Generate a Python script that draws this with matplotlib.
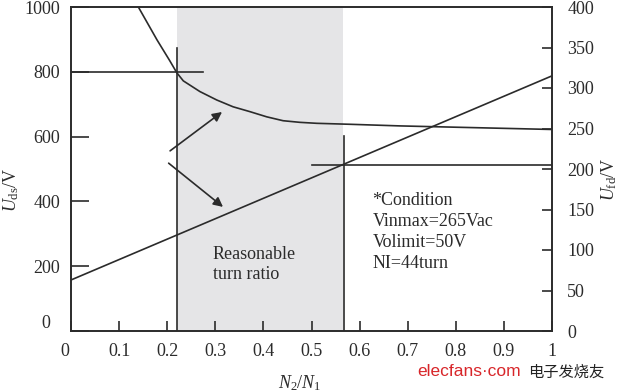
import matplotlib
matplotlib.use("Agg")
import matplotlib.pyplot as plt
import matplotlib.transforms as mtransforms

plt.rcParams['font.family'] = ['Liberation Serif', 'DejaVu Serif']
plt.rcParams['mathtext.fontset'] = 'custom'
plt.rcParams['mathtext.rm'] = 'Liberation Serif'
plt.rcParams['mathtext.it'] = 'Liberation Serif:italic'

# data
x_ticks = [0, 0.1, 0.2, 0.3, 0.4, 0.5, 0.6, 0.7, 0.8, 0.9, 1]
x_tick_labels = ['0', '0.1', '0.2', '0.3', '0.4', '0.5', '0.6', '0.7', '0.8', '0.9', '1']
left_ticks = [0, 200, 400, 600, 800, 1000]
right_ticks = [0, 50, 100, 150, 200, 250, 300, 350, 400]

uds_x = [0.14, 0.179, 0.205, 0.22, 0.2335, 0.268, 0.303, 0.337, 0.372, 0.407, 0.441, 0.476, 0.511, 0.58, 0.684, 1.0]
uds_y = [1000, 898, 835, 797, 772, 739, 713, 692, 677, 661, 649, 644, 641, 638, 633, 622]

ufd_x = [0, 1]
ufd_y = [63, 315]

shade_range = [0.22, 0.566]
# marker lines
m1_x = 0.22; m1_top = 875; m1_h = 800; m1_hx = 0.275
m2_x = 0.567; m2_top = 241; m2_h = 205; m2_hx0 = 0.50

condition_lines = ['*Condition', 'Vinmax=265Vac', 'Volimit=50V', 'NI=44turn']

col = '#2b2b2b'
fs = 13

fig = plt.figure(figsize=(6.2, 3.92), dpi=100)
ax = fig.add_axes([71/620, 1-331/392, (552-71)/620, (331-7)/392])
ax2 = ax.twinx()

ax.set_xlim(0, 1)
ax.set_ylim(0, 1000)
ax2.set_ylim(0, 400)

ax.axvspan(shade_range[0], shade_range[1], color='#e5e5e7', lw=0, zorder=0)

ax.plot(uds_x, uds_y, color=col, lw=1.2)
ax2.plot(ufd_x, ufd_y, color=col, lw=1.2)

ax.plot([m1_x, m1_x], [0, m1_top], color=col, lw=1.2)
ax.plot([0, m1_hx], [m1_h, m1_h], color=col, lw=1.2)
ax2.plot([m2_x, m2_x], [0, m2_top], color=col, lw=1.2)
ax2.plot([m2_hx0, 1], [m2_h, m2_h], color=col, lw=1.2)

arrowprops = dict(arrowstyle='-|>', color=col, lw=1.2, mutation_scale=14, shrinkA=0, shrinkB=0)
ax.annotate('', xy=(0.314, 676), xytext=(0.206, 556), arrowprops=arrowprops)
ax.annotate('', xy=(0.316, 383), xytext=(0.203, 518), arrowprops=arrowprops)

ax.text(0.295, 0.205, 'Reasonable\nturn ratio', transform=ax.transAxes, fontsize=fs,
        color=col, ha='left', va='center', linespacing=1.2)
ax.text(0.627, 0.305, '\n'.join(condition_lines), transform=ax.transAxes, fontsize=fs,
        color=col, ha='left', va='center', linespacing=1.3)

for a in (ax, ax2):
    for s in a.spines.values():
        s.set_color(col)
        s.set_linewidth(1.2)

ax.set_xticks(x_ticks)
ax.set_xticklabels(x_tick_labels)
ax.set_yticks(left_ticks)
ax2.set_yticks(right_ticks)
ax.tick_params(axis='x', direction='in', length=7, width=1.2, color=col, labelsize=fs, pad=9, labelcolor=col)
ax.tick_params(axis='y', direction='in', length=13, width=1.2, color=col, labelsize=fs, pad=8, labelcolor=col)
ax2.tick_params(axis='y', direction='in', length=7, width=1.2, color=col, labelsize=fs, pad=11, labelcolor=col)

# small offsets of the zero labels as in the reference
ax.get_xticklabels()[0].set_transform(ax.get_xticklabels()[0].get_transform() +
                                      mtransforms.ScaledTranslation(-6/100, 0, fig.dpi_scale_trans))
ax.get_yticklabels()[0].set_transform(ax.get_yticklabels()[0].get_transform() +
                                      mtransforms.ScaledTranslation(-10/100, 10/100, fig.dpi_scale_trans))

ax.set_xlabel(r'$N_2/N_1$', fontsize=fs, color=col)
ax.set_ylabel(r'$U_{\mathrm{ds}}$/V', fontsize=fs, color=col)
ax2.set_ylabel(r'$U_{\mathrm{fd}}$/V', fontsize=fs, color=col, rotation=90)
ax.xaxis.set_label_coords(0.475, -0.13)
ax.yaxis.set_label_coords(-0.104, 0.435)
ax2.yaxis.set_label_coords(1.098, 0.47)

# watermark
fig.text(417/620, 1-372/392, 'elecfans\u00b7com', color='#d8262a', fontsize=12.5,
         family=['Liberation Sans', 'DejaVu Sans'], ha='left', va='center')
fig.text(528/620, 1-372/392, '电子发烧友', color='#222222', fontsize=11,
         family=['Noto Sans CJK SC', 'DejaVu Sans'], ha='left', va='center')

fig.savefig('out.png', dpi=100)
